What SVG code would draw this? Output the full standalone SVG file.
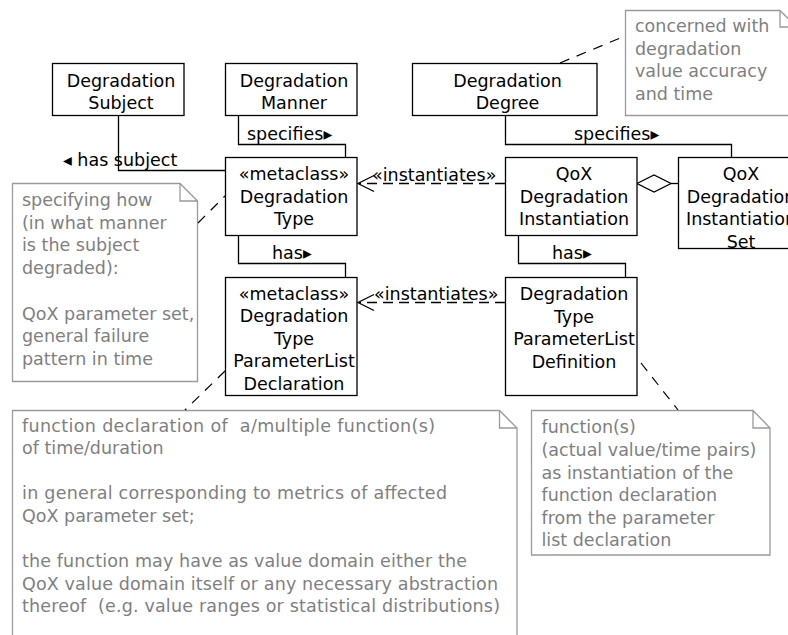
<svg xmlns="http://www.w3.org/2000/svg" width="788" height="635" viewBox="0 0 788 635">
  <style>
    text { font-family: "DejaVu Sans", "Liberation Sans", sans-serif; font-size: 17.5px; white-space: pre; }
    .cls rect { fill: #ffffff; stroke: #000000; stroke-width: 1.3; }
    .cls text { fill: #000000; text-anchor: middle; }
    .note path { fill: #ffffff; stroke: #9a9a9a; stroke-width: 1.3; }
    .note text { fill: #7f7f7f; }
    .lbl { fill: #000000; }
    .assoc { fill: none; stroke: #000000; stroke-width: 1.3; }
    .dep { fill: none; stroke: #000000; stroke-width: 1.3; stroke-dasharray: 10 6; }
    .anchor { fill: none; stroke: #000000; stroke-width: 1.2; stroke-dasharray: 10 8; }
  </style>
  <rect width="788" height="635" fill="#ffffff"/>

  <!-- notes -->
  <g id="note-manner" class="note">
    <path d="M12.5,183.5 H180 L197.5,201 V381.5 H12.5 Z M180,183.5 V201 H197.5"/>
    <text x="22" y="206">specifying how</text>
    <text x="22" y="228.7">(in what manner</text>
    <text x="22" y="251.4">is the subject</text>
    <text x="22" y="274.1">degraded):</text>
    <text x="22" y="319.5">QoX parameter set,</text>
    <text x="22" y="342.2">general failure</text>
    <text x="22" y="364.9">pattern in time</text>
  </g>
  <g id="note-degree" class="note">
    <path d="M625.5,10.5 H780 L796.5,27 V115.5 H625.5 Z M780,10.5 V27 H796.5"/>
    <text x="635" y="32">concerned with</text>
    <text x="635" y="54.7">degradation</text>
    <text x="635" y="77.4">value accuracy</text>
    <text x="635" y="100.1">and time</text>
  </g>
  <g id="note-declaration" class="note">
    <path d="M12.5,410.5 H499.5 L517,428 V645 H12.5 Z M499.5,410.5 V428 H517"/>
    <text x="22" y="431.5" xml:space="preserve" textLength="413">function declaration of  a/multiple function(s)</text>
    <text x="22" y="454.1">of time/duration</text>
    <text x="22" y="499.3" textLength="425">in general corresponding to metrics of affected</text>
    <text x="22" y="521.9">QoX parameter set;</text>
    <text x="22" y="567.1" textLength="445">the function may have as value domain either the</text>
    <text x="22" y="589.7" textLength="476">QoX value domain itself or any necessary abstraction</text>
    <text x="22" y="612.3" xml:space="preserve" textLength="478">thereof  (e.g. value ranges or statistical distributions)</text>
  </g>
  <g id="note-definition" class="note">
    <path d="M531.5,410.5 H753 L770,428 V555 H531.5 Z M753,410.5 V428 H770"/>
    <text x="541.5" y="433.3">function(s)</text>
    <text x="541.5" y="455.9">(actual value/time pairs)</text>
    <text x="541.5" y="478.5">as instantiation of the</text>
    <text x="541.5" y="501.1">function declaration</text>
    <text x="541.5" y="523.7">from the parameter</text>
    <text x="541.5" y="546.3">list declaration</text>
  </g>

  <!-- connectors -->
  <g id="connectors">
    <polyline class="assoc" points="118.5,116 118.5,170.5 225,170.5"/>
    <polyline class="assoc" points="238.5,116 238.5,144.5 345.5,144.5 345.5,157"/>
    <polyline class="assoc" points="505.5,116 505.5,144.5 731.5,144.5 731.5,157"/>
    <polyline class="assoc" points="238.5,236 238.5,263.5 345.5,263.5 345.5,277"/>
    <polyline class="assoc" points="518.5,236 518.5,263.5 625.5,263.5 625.5,277"/>

    <line class="dep" x1="505" y1="183.5" x2="359" y2="183.5"/>
    <polyline class="assoc" points="374,175.5 358,183.5 374,191.5"/>
    <line class="dep" x1="505" y1="302.5" x2="359" y2="302.5"/>
    <polyline class="assoc" points="374,294.5 358,302.5 374,310.5"/>

    <polygon points="637,183.5 654,175 671,183.5 654,192" fill="#ffffff" stroke="#000000" stroke-width="1.3"/>
    <line class="assoc" x1="671" y1="183.5" x2="678" y2="183.5"/>

    <line class="anchor" x1="198" y1="223" x2="225" y2="196"/>
    <line class="anchor" x1="560" y1="63" x2="625" y2="36"/>
    <line class="anchor" x1="225" y1="371" x2="185" y2="410"/>
    <line class="anchor" x1="641" y1="363" x2="678" y2="410"/>

    <text class="lbl" x="63" y="166">◂ has subject</text>
    <text class="lbl" x="247" y="139.5">specifies▸</text>
    <text class="lbl" x="574" y="139.5">specifies▸</text>
    <text class="lbl" x="272" y="258.5">has▸</text>
    <text class="lbl" x="552" y="258.5">has▸</text>
    <text class="lbl" x="372" y="180.5">«instantiates»</text>
    <text class="lbl" x="374" y="299.5">«instantiates»</text>
  </g>

  <!-- classes -->
  <g id="degradation-subject" class="cls">
    <rect x="52.5" y="63.5" width="131.5" height="52"/>
    <text x="121" y="86.5">Degradation</text>
    <text x="121" y="109.2">Subject</text>
  </g>
  <g id="degradation-manner" class="cls">
    <rect x="225.5" y="63.5" width="131.5" height="52"/>
    <text x="294" y="86.5">Degradation</text>
    <text x="294" y="109.2">Manner</text>
  </g>
  <g id="degradation-degree" class="cls">
    <rect x="412.5" y="63.5" width="184.5" height="52"/>
    <text x="507.5" y="86.5">Degradation</text>
    <text x="507.5" y="109.2">Degree</text>
  </g>
  <g id="degradation-type" class="cls">
    <rect x="225.5" y="157.5" width="131.5" height="78"/>
    <text x="294" y="180">«metaclass»</text>
    <text x="294" y="202.7">Degradation</text>
    <text x="294" y="225.4">Type</text>
  </g>
  <g id="qox-degradation-instantiation" class="cls">
    <rect x="505.5" y="157.5" width="131.5" height="78"/>
    <text x="574" y="180">QoX</text>
    <text x="574" y="202.7">Degradation</text>
    <text x="574" y="225.4">Instantiation</text>
  </g>
  <g id="qox-degradation-instantiation-set" class="cls">
    <rect x="678.5" y="157.5" width="125" height="91"/>
    <text x="741" y="180">QoX</text>
    <text x="741" y="202.7">Degradation</text>
    <text x="741" y="225.4">Instantiation</text>
    <text x="741" y="247.5">Set</text>
  </g>
  <g id="parameterlist-declaration" class="cls">
    <rect x="225.5" y="277.5" width="131.5" height="118"/>
    <text x="294" y="299.5">«metaclass»</text>
    <text x="294" y="322">Degradation</text>
    <text x="294" y="344.5">Type</text>
    <text x="294" y="367">ParameterList</text>
    <text x="294" y="389.5">Declaration</text>
  </g>
  <g id="parameterlist-definition" class="cls">
    <rect x="505.5" y="277.5" width="131.5" height="118"/>
    <text x="574" y="300">Degradation</text>
    <text x="574" y="322.5">Type</text>
    <text x="574" y="345">ParameterList</text>
    <text x="574" y="367.5">Definition</text>
  </g>
</svg>
